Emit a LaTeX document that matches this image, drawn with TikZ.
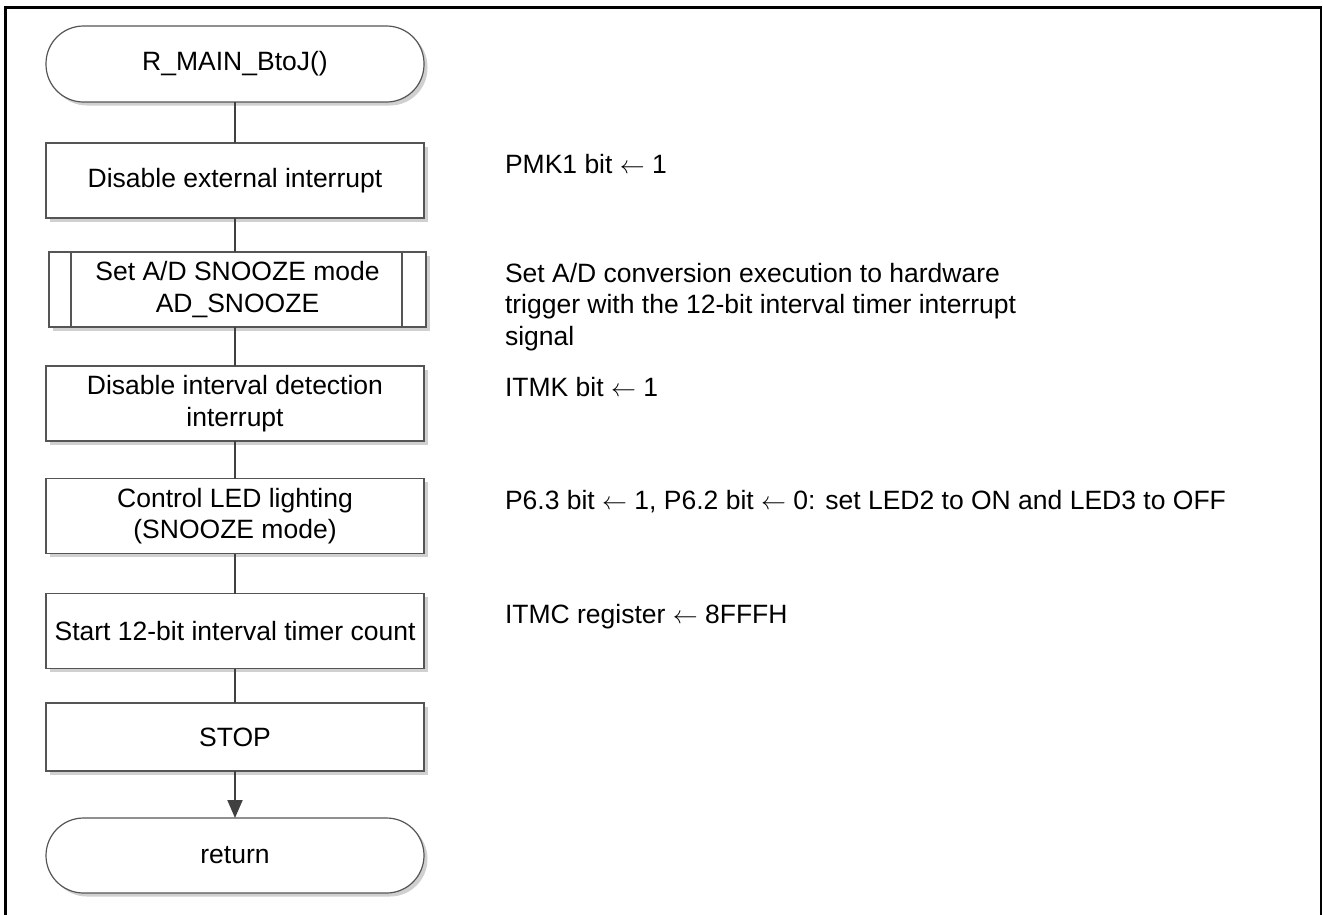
\documentclass[tikz,border=0pt]{standalone}
\usepackage{fontspec}
\setmainfont{Liberation Sans}
\usetikzlibrary{arrows.meta,shadows}
\definecolor{boxgray}{RGB}{85,85,85}
\definecolor{linkgray}{RGB}{64,64,64}
\definecolor{shadowgray}{RGB}{208,208,208}
\newcommand{\larr}{$\leftarrow$}
\begin{document}
\begin{tikzpicture}[x=1pt,y=-1pt,
  every node/.style={font=\fontsize{26.5}{31.7}\selectfont, inner sep=0pt, outer sep=0pt},
  procbox/.style={draw=boxgray, line width=1.2pt, fill=white, rectangle,
    minimum width=378pt, minimum height=75pt, align=center,
    general shadow={shadow xshift=3.5pt, shadow yshift=-3.5pt, fill=shadowgray}},
  termbox/.style={procbox, rounded corners=37.5pt},
  link/.style={draw=linkgray, line width=2pt},
  note/.style={anchor=base west},
]
\useasboundingbox (0,0) rectangle (1323,914);
% frame
\draw[line width=2.6pt] (5.3,916) -- (5.3,7.3) -- (1321,7.3) -- (1321,916);

% flow nodes
\node[termbox, minimum height=76pt] (start) at (235,64) {R\_MAIN\_BtoJ()};
\node[procbox] (b1) at (235,180.5) {Disable external interrupt};
\node[procbox, minimum width=377pt] (b2) at (237.5,289.5) {Set A/D SNOOZE mode\\AD\_SNOOZE};
\node[procbox] (b3) at (235,403.5) {Disable interval detection\\interrupt};
\node[procbox] (b4) at (235,516) {Control LED lighting\\(SNOOZE mode)};
\node[procbox] (b5) at (235,631) {Start 12-bit interval timer count};
\node[procbox, minimum height=68pt] (stop) at (235,737) {STOP};
\node[termbox] (ret) at (235,855.5) {return};

% predefined-process side bars
\draw[boxgray, line width=1.2pt] ([xshift=22pt]b2.north west) -- ([xshift=22pt]b2.south west);
\draw[boxgray, line width=1.2pt] ([xshift=-24pt]b2.north east) -- ([xshift=-24pt]b2.south east);

% connectors
\draw[link] (start.south) -- (b1.north);
\draw[link] (b1.south) -- (b1.south |- b2.north);
\draw[link] (b1.south |- b2.south) -- (b3.north);
\draw[link] (b3.south) -- (b4.north);
\draw[link] (b4.south) -- (b5.north);
\draw[link] (b5.south) -- (stop.north);
\draw[link, -{Triangle[length=18pt,width=15pt]}] (stop.south) -- (ret.north);

% annotations
\node[note] (n1) at (505,173) {PMK1 bit \larr{} 1};
\node[note] (n2) at (505,282) {\begin{tabular}[t]{@{}l@{}}Set A/D conversion execution to hardware\\trigger with the 12-bit interval timer interrupt\\signal\end{tabular}};
\node[note] (n3) at (505,396) {ITMK bit \larr{} 1};
\node[note] (n4) at (505,509) {P6.3 bit \larr{} 1, P6.2 bit \larr{} 0: set LED2 to ON and LED3 to OFF};
\node[note] (n5) at (505,623) {ITMC register \larr{} 8FFFH};
\end{tikzpicture}
\end{document}
